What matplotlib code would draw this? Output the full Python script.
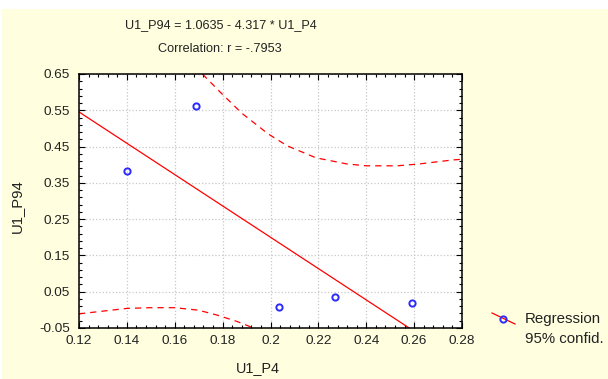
import matplotlib
matplotlib.use("Agg")
import matplotlib.pyplot as plt
from matplotlib.lines import Line2D
from matplotlib.patches import Rectangle
from matplotlib.ticker import AutoMinorLocator

# dati
u1_p4 = [0.1399, 0.1689, 0.2034, 0.2271, 0.2592]
u1_p94 = [0.383, 0.562, 0.008, 0.035, 0.018]

intercetta = 1.0635
pendenza = -4.317

# bande di confidenza 95%
sup_x = [0.165, 0.172, 0.179, 0.188, 0.199, 0.207, 0.219, 0.232, 0.240, 0.253, 0.262, 0.276, 0.28]
sup_y = [0.694, 0.647, 0.600, 0.542, 0.485, 0.452, 0.419, 0.402, 0.397, 0.397, 0.402, 0.413, 0.415]
inf_x = [0.12, 0.14, 0.15, 0.16, 0.17, 0.178, 0.186, 0.191, 0.195]
inf_y = [-0.011, 0.004, 0.006, 0.006, -0.001, -0.015, -0.032, -0.045, -0.056]

xticks = [0.12, 0.14, 0.16, 0.18, 0.2, 0.22, 0.24, 0.26, 0.28]
xlabels = ['0.12', '0.14', '0.16', '0.18', '0.2', '0.22', '0.24', '0.26', '0.28']
yticks = [-0.05, 0.05, 0.15, 0.25, 0.35, 0.45, 0.55, 0.65]
ylabels = ['-0.05', '0.05', '0.15', '0.25', '0.35', '0.45', '0.55', '0.65']

plt.rcParams['font.family'] = ['Liberation Sans', 'DejaVu Sans']
testo = '#222222'

fig = plt.figure(figsize=(6.08, 3.79), dpi=100)
fig.patch.set_facecolor('white')
# sfondo giallino
fig.patches.append(Rectangle((2 / 608, 0), 1, 1 - 9 / 379, transform=fig.transFigure,
                             facecolor='#FFFFE0', edgecolor='none', zorder=-10))

ax = fig.add_axes([79 / 608, 1 - 328 / 379, 383 / 608, 254 / 379])
ax.set_facecolor('white')

ax.grid(True, color='#c8c8c8', linestyle=':', linewidth=0.9)
ax.axline((0, intercetta), slope=pendenza, color='red', linewidth=0.9)
ax.plot(sup_x, sup_y, color='red', linestyle=(0, (5, 4)), linewidth=0.9)
ax.plot(inf_x, inf_y, color='red', linestyle=(0, (5, 4)), linewidth=0.9)
ax.plot(u1_p4, u1_p94, linestyle='none', marker='o', markersize=4.5,
        markerfacecolor='none', markeredgecolor='#2b2bff', markeredgewidth=1.4)

ax.set_xlim(0.12, 0.28)
ax.set_ylim(-0.05, 0.65)
ax.set_xticks(xticks)
ax.set_xticklabels(xlabels)
ax.set_yticks(yticks)
ax.set_yticklabels(ylabels)
ax.xaxis.set_minor_locator(AutoMinorLocator(5))
ax.yaxis.set_minor_locator(AutoMinorLocator(5))
ax.tick_params(which='both', direction='in', top=True, right=True, colors='black',
               labelsize=9.7, labelcolor=testo)
ax.tick_params(axis='x', which='major', pad=5)
ax.tick_params(axis='y', which='major', pad=6.5)
ax.tick_params(which='major', length=4, width=0.8)
ax.tick_params(which='minor', length=2.5, width=0.8)
for s in ax.spines.values():
    s.set_linewidth(1.1)

fig.text(221 / 608, 1 - 25 / 379, 'U1_P94 = 1.0635 - 4.317 * U1_P4', ha='center', va='center',
         fontsize=9.1, color=testo)
fig.text(220 / 608, 1 - 49 / 379, 'Correlation: r = -.7953', ha='center', va='center',
         fontsize=9.1, color=testo)
fig.text(17 / 608, 1 - 206 / 379, 'U1_P94', rotation=90, ha='center', va='center',
         fontsize=10.7, color=testo)
fig.text(258 / 608, 1 - 368 / 379, 'U1_P4', ha='center', va='center',
         fontsize=10.4, color=testo)

# legenda
fig.lines.append(Line2D([492 / 608, 515 / 608], [1 - 313 / 379, 1 - 324 / 379],
                        transform=fig.transFigure, color='red', linewidth=0.9))
fig.lines.append(Line2D([503 / 608], [1 - 318.5 / 379], transform=fig.transFigure,
                        marker='o', markersize=4.5, markerfacecolor='none',
                        markeredgecolor='#2b2bff', markeredgewidth=1.4))
fig.text(525 / 608, 1 - 319 / 379, 'Regression', ha='left', va='center',
         fontsize=10.8, color=testo)
fig.text(525 / 608, 1 - 339 / 379, '95% confid.', ha='left', va='center',
         fontsize=10.8, color=testo)

fig.savefig('out.png', dpi=100, facecolor=fig.get_facecolor())
